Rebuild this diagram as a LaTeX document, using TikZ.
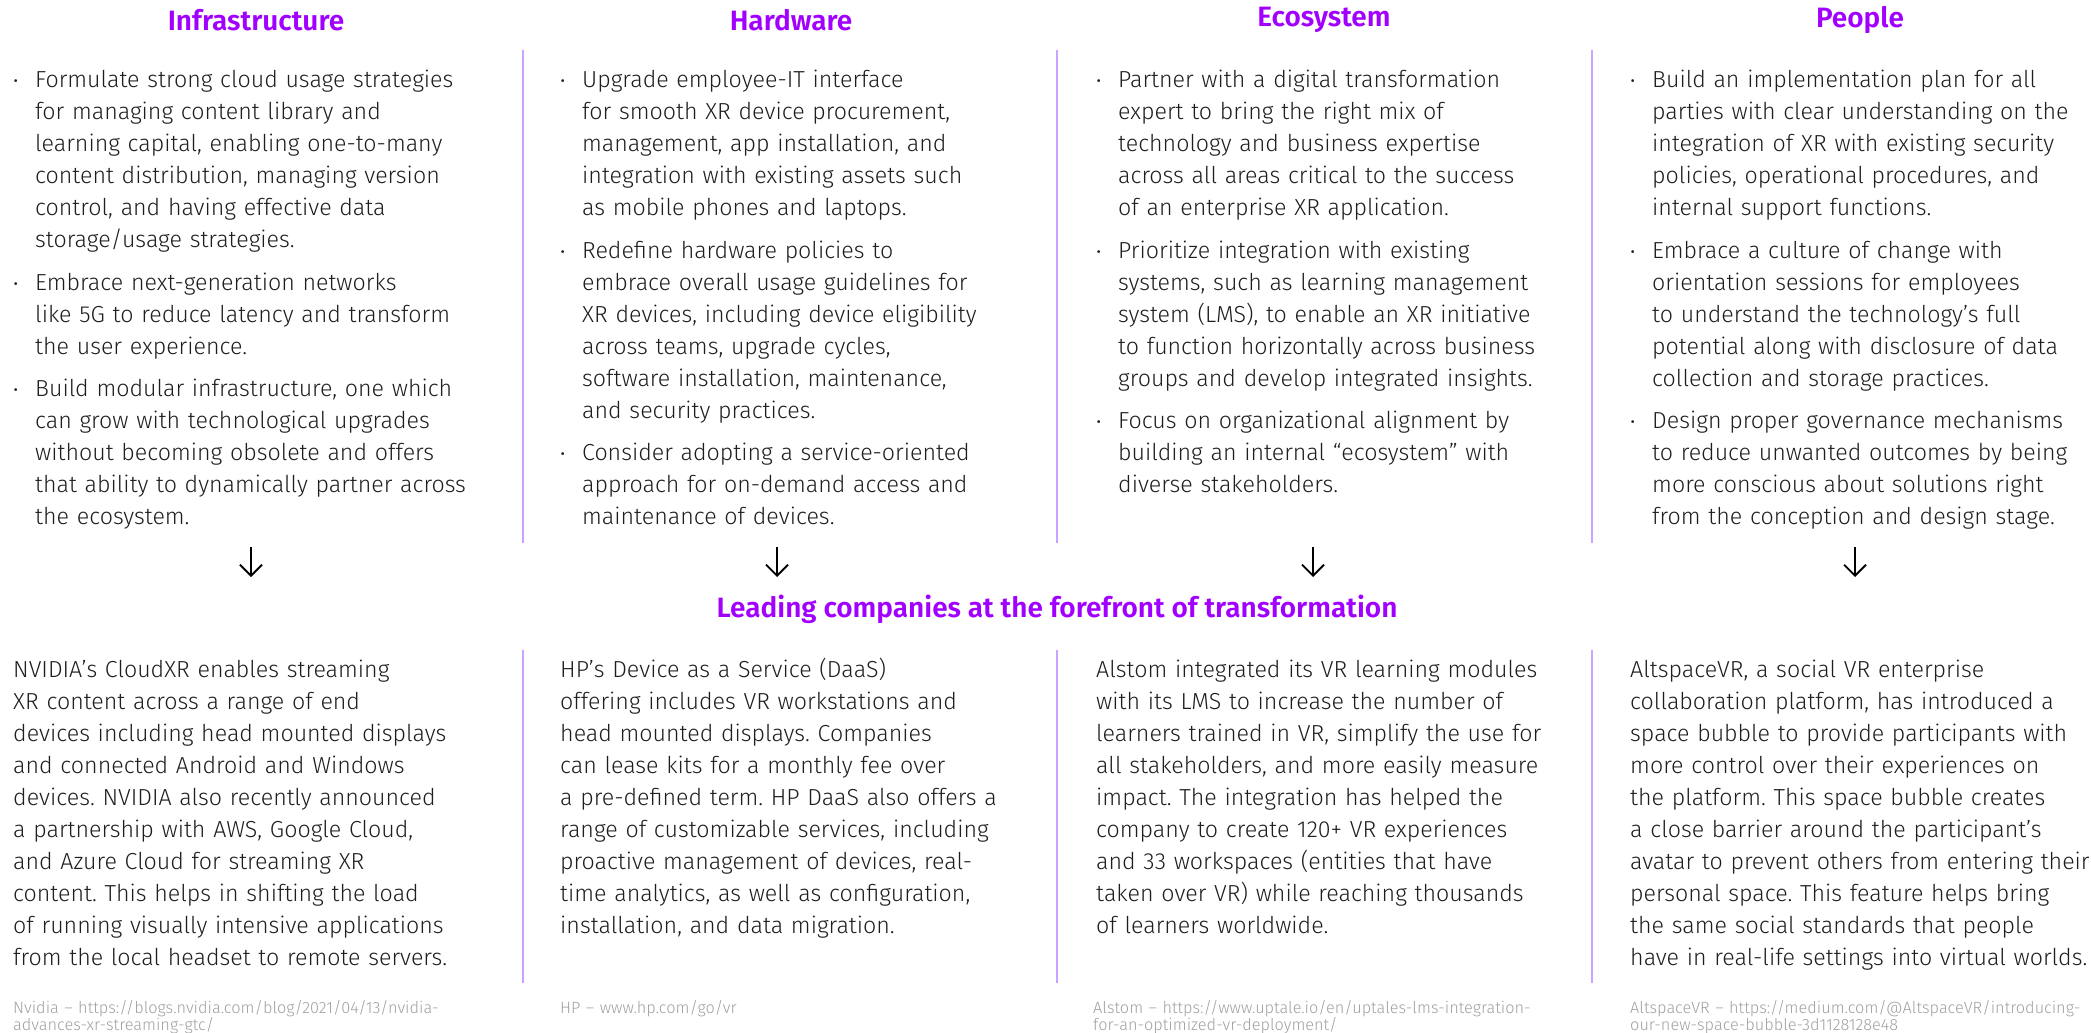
\documentclass[tikz,border=0pt]{standalone}
\usepackage{fontspec}
\setmainfont{Fira Sans}[UprightFont=* Light, BoldFont=* SemiBold]
\usepackage{tikz}
\usetikzlibrary{arrows.meta}

\definecolor{accpurple}{HTML}{A100FF}
\definecolor{divline}{HTML}{C9A3FF}
\definecolor{srcgray}{HTML}{A0A0A0}
\definecolor{bodytext}{HTML}{1E1E1E}

% bullet with hanging indent, lines broken by \newline
\newcommand{\bfirst}{\hangindent=22pt\hangafter=1\noindent\makebox[22pt][l]{\scalebox{0.8}{\textbullet}}}
\newcommand{\bpoint}{\par\bfirst}

\begin{document}
\frenchspacing
\begin{tikzpicture}[x=1pt, y=-1pt]
        \tikzstyle{head} = [font=\fontsize{28}{32}\selectfont\bfseries, text=accpurple, inner sep=0pt]
        \tikzstyle{points} = [anchor=base west, inner sep=0pt, text width=540pt, align=left, text=bodytext, font=\fontsize{23.2}{32}\selectfont\frenchspacing\setlength{\parskip}{10.5pt}]
        \tikzstyle{example} = [anchor=base west, inner sep=0pt, text width=540pt, align=left, text=bodytext, font=\fontsize{23.2}{32}\selectfont\frenchspacing]
        \tikzstyle{source} = [anchor=base west, inner sep=0pt, text width=540pt, align=left, text=srcgray, font=\fontsize{16.3}{17}\selectfont]
        \tikzstyle{divider} = [draw=divline, line width=1.6pt]
        \tikzstyle{line} = [draw, line width=1.8pt, -{Straight Barb[length=11pt, width=22pt]}]

        \useasboundingbox (0,0) rectangle (2091,1033);

        % column headings
        \node [head] (infra) at (256,20) {Infrastructure};
        \node [head] (hw) at (791,20) {Hardware};
        \node [head] (eco) at (1324,20) {Ecosystem};
        \node [head] (people) at (1860,20) {People};

        % recommendations
        \node [points] (infratext) at (13,88) {%
          \bfirst Formulate strong cloud usage strategies\newline for managing content library and\newline learning capital, enabling one-to-many\newline content distribution, managing version\newline control, and having effective data\newline storage/usage strategies.
          \bpoint Embrace next-generation networks\newline like 5G to reduce latency and transform\newline the user experience.
          \bpoint Build modular infrastructure, one which\newline can grow with technological upgrades\newline without becoming obsolete and offers\newline that ability to dynamically partner across\newline the ecosystem.\par};
        \node [points] (hwtext) at (560,88) {%
          \bfirst Upgrade employee-IT interface\newline for smooth XR device procurement,\newline management, app installation, and\newline integration with existing assets such\newline as mobile phones and laptops.
          \bpoint Redefine hardware policies to\newline embrace overall usage guidelines for\newline XR devices, including device eligibility\newline across teams, upgrade cycles,\newline software installation, maintenance,\newline and security practices.
          \bpoint Consider adopting a service-oriented\newline approach for on-demand access and\newline maintenance of devices.\par};
        \node [points] (ecotext) at (1096,88) {%
          \bfirst Partner with a digital transformation\newline expert to bring the right mix of\newline technology and business expertise\newline across all areas critical to the success\newline of an enterprise XR application.
          \bpoint Prioritize integration with existing\newline systems, such as learning management\newline system (LMS), to enable an XR initiative\newline to function horizontally across business\newline groups and develop integrated insights.
          \bpoint Focus on organizational alignment by\newline building an internal “ecosystem” with\newline diverse stakeholders.\par};
        \node [points] (peopletext) at (1630,88) {%
          \bfirst Build an implementation plan for all\newline parties with clear understanding on the\newline integration of XR with existing security\newline policies, operational procedures, and\newline internal support functions.
          \bpoint Embrace a culture of change with\newline orientation sessions for employees\newline to understand the technology’s full\newline potential along with disclosure of data\newline collection and storage practices.
          \bpoint Design proper governance mechanisms\newline to reduce unwanted outcomes by being\newline more conscious about solutions right\newline from the conception and design stage.\par};

        % arrows
        \coordinate (a1s) at (251,547); \coordinate (a1e) at (251,577);
        \coordinate (a2s) at (777,547); \coordinate (a2e) at (777,577);
        \coordinate (a3s) at (1313,547); \coordinate (a3e) at (1313,577);
        \coordinate (a4s) at (1855,547); \coordinate (a4e) at (1855,577);
        \path [line] (a1s) -- (a1e);
        \path [line] (a2s) -- (a2e);
        \path [line] (a3s) -- (a3e);
        \path [line] (a4s) -- (a4e);

        \node [head] (leading) at (1057,609) {Leading companies at the forefront of transformation};

        % company examples
        \node [example] (nvidia) at (13,677) {NVIDIA’s CloudXR enables streaming\\ XR content across a range of end\\ devices including head mounted displays\\ and connected Android and Windows\\ devices. NVIDIA also recently announced\\ a partnership with AWS, Google Cloud,\\ and Azure Cloud for streaming XR\\ content. This helps in shifting the load\\ of running visually intensive applications\\ from the local headset to remote servers.};
        \node [example] (hp) at (560,677) {HP’s Device as a Service (DaaS)\\ offering includes VR workstations and\\ head mounted displays. Companies\\ can lease kits for a monthly fee over\\ a pre-defined term. HP DaaS also offers a\\ range of customizable services, including\\ proactive management of devices, real-\\ time analytics, as well as configuration,\\ installation, and data migration.};
        \node [example] (alstom) at (1096,677) {Alstom integrated its VR learning modules\\ with its LMS to increase the number of\\ learners trained in VR, simplify the use for\\ all stakeholders, and more easily measure\\ impact. The integration has helped the\\ company to create 120+ VR experiences\\ and 33 workspaces (entities that have\\ taken over VR) while reaching thousands\\ of learners worldwide.};
        \node [example] (altspace) at (1630,677) {AltspaceVR, a social VR enterprise\\ collaboration platform, has introduced a\\ space bubble to provide participants with\\ more control over their experiences on\\ the platform. This space bubble creates\\ a close barrier around the participant’s\\ avatar to prevent others from entering their\\ personal space. This feature helps bring\\ the same social standards that people\\ have in real-life settings into virtual worlds.};

        % sources
        \node [source] (nvidiasrc) at (13,1013) {Nvidia – https://blogs.nvidia.com/blog/2021/04/13/nvidia-\\ advances-xr-streaming-gtc/};
        \node [source] (hpsrc) at (560,1013) {HP – www.hp.com/go/vr};
        \node [source] (alstomsrc) at (1093,1013) {Alstom – https://www.uptale.io/en/uptales-lms-integration-\\ for-an-optimized-vr-deployment/};
        \node [source] (altspacesrc) at (1630,1013) {AltspaceVR – https://medium.com/@AltspaceVR/introducing-\\ our-new-space-bubble-3d1128128e48};

        % column dividers
        \foreach \x in {523,1057,1592} {
          \draw [divider] (\x,50) -- (\x,543);
          \draw [divider] (\x,650) -- (\x,983);
        }
    \end{tikzpicture}
\end{document}
